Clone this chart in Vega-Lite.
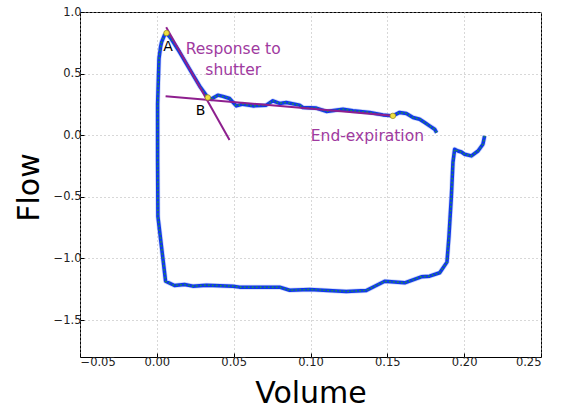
{
  "$schema": "https://vega.github.io/schema/vega-lite/v6.json",
  "width": 461,
  "height": 345,
  "autosize": "none",
  "padding": {"left": 80, "top": 12, "right": 20, "bottom": 51},
  "background": "white",
  "config": {
    "font": "DejaVu Sans",
    "view": {"stroke": "black", "strokeWidth": 1},
    "axis": {
      "grid": true, "gridColor": "#b0b0b0", "gridDash": [1, 3], "gridWidth": 1,
      "domain": false, "tickColor": "black", "tickSize": -4,
      "labelFont": "DejaVu Sans", "labelFontSize": 11.5, "labelColor": "#222222",
      "titleFont": "DejaVu Sans", "titleFontWeight": "normal", "titleFontSize": 30, "titleColor": "black"
    }
  },
  "datasets": {
    "loop": [
      {"i": 1, "vol": 0.2133, "flow": -0.006},
      {"i": 2, "vol": 0.2122, "flow": -0.073},
      {"i": 3, "vol": 0.2090, "flow": -0.128},
      {"i": 4, "vol": 0.2047, "flow": -0.168},
      {"i": 5, "vol": 0.2003, "flow": -0.154},
      {"i": 6, "vol": 0.1982, "flow": -0.136},
      {"i": 7, "vol": 0.1960, "flow": -0.128},
      {"i": 8, "vol": 0.1938, "flow": -0.114},
      {"i": 9, "vol": 0.1927, "flow": -0.22},
      {"i": 10, "vol": 0.1917, "flow": -0.49},
      {"i": 11, "vol": 0.1901, "flow": -0.82},
      {"i": 12, "vol": 0.1888, "flow": -1.03},
      {"i": 13, "vol": 0.1841, "flow": -1.116},
      {"i": 14, "vol": 0.1775, "flow": -1.144},
      {"i": 15, "vol": 0.1721, "flow": -1.149},
      {"i": 16, "vol": 0.1613, "flow": -1.198},
      {"i": 17, "vol": 0.1483, "flow": -1.185},
      {"i": 18, "vol": 0.1363, "flow": -1.26},
      {"i": 19, "vol": 0.1233, "flow": -1.268},
      {"i": 20, "vol": 0.0994, "flow": -1.252},
      {"i": 21, "vol": 0.0864, "flow": -1.258},
      {"i": 22, "vol": 0.0799, "flow": -1.233},
      {"i": 23, "vol": 0.0538, "flow": -1.233},
      {"i": 24, "vol": 0.0495, "flow": -1.225},
      {"i": 25, "vol": 0.0322, "flow": -1.217},
      {"i": 26, "vol": 0.0234, "flow": -1.225},
      {"i": 27, "vol": 0.0180, "flow": -1.211},
      {"i": 28, "vol": 0.0115, "flow": -1.22},
      {"i": 29, "vol": 0.0057, "flow": -1.185},
      {"i": 30, "vol": 0.0007, "flow": -0.66},
      {"i": 31, "vol": 0.0005, "flow": -0.195},
      {"i": 32, "vol": 0.0005, "flow": 0.25},
      {"i": 33, "vol": 0.0014, "flow": 0.62},
      {"i": 34, "vol": 0.0024, "flow": 0.715},
      {"i": 35, "vol": 0.0031, "flow": 0.756},
      {"i": 36, "vol": 0.0050, "flow": 0.813},
      {"i": 37, "vol": 0.0063, "flow": 0.829},
      {"i": 38, "vol": 0.0089, "flow": 0.79},
      {"i": 39, "vol": 0.0148, "flow": 0.675},
      {"i": 40, "vol": 0.0213, "flow": 0.537},
      {"i": 41, "vol": 0.0278, "flow": 0.40},
      {"i": 42, "vol": 0.0332, "flow": 0.306},
      {"i": 43, "vol": 0.0354, "flow": 0.293},
      {"i": 44, "vol": 0.0397, "flow": 0.325},
      {"i": 45, "vol": 0.0430, "flow": 0.315},
      {"i": 46, "vol": 0.0473, "flow": 0.298},
      {"i": 47, "vol": 0.0517, "flow": 0.238},
      {"i": 48, "vol": 0.0560, "flow": 0.252},
      {"i": 49, "vol": 0.0625, "flow": 0.238},
      {"i": 50, "vol": 0.0712, "flow": 0.244},
      {"i": 51, "vol": 0.0755, "flow": 0.279},
      {"i": 52, "vol": 0.0799, "flow": 0.258},
      {"i": 53, "vol": 0.0842, "flow": 0.266},
      {"i": 54, "vol": 0.0929, "flow": 0.244},
      {"i": 55, "vol": 0.0950, "flow": 0.225},
      {"i": 56, "vol": 0.1038, "flow": 0.22},
      {"i": 57, "vol": 0.1103, "flow": 0.193},
      {"i": 58, "vol": 0.1211, "flow": 0.211},
      {"i": 59, "vol": 0.1276, "flow": 0.198},
      {"i": 60, "vol": 0.1385, "flow": 0.185},
      {"i": 61, "vol": 0.1471, "flow": 0.165},
      {"i": 62, "vol": 0.1536, "flow": 0.157},
      {"i": 63, "vol": 0.1580, "flow": 0.185},
      {"i": 64, "vol": 0.1624, "flow": 0.176},
      {"i": 65, "vol": 0.1667, "flow": 0.144},
      {"i": 66, "vol": 0.1710, "flow": 0.13},
      {"i": 67, "vol": 0.1743, "flow": 0.103},
      {"i": 68, "vol": 0.1775, "flow": 0.076},
      {"i": 69, "vol": 0.1808, "flow": 0.049},
      {"i": 70, "vol": 0.1821, "flow": 0.02}
    ],
    "fits": [
      {"seg": "shutter", "vol": 0.0061, "flow": 0.876},
      {"seg": "shutter", "vol": 0.0473, "flow": -0.038},
      {"seg": "end", "vol": 0.0057, "flow": 0.317},
      {"seg": "end", "vol": 0.1536, "flow": 0.157}
    ],
    "marks": [
      {"name": "A", "vol": 0.0063, "flow": 0.829},
      {"name": "B", "vol": 0.0332, "flow": 0.306},
      {"name": "E", "vol": 0.1536, "flow": 0.157}
    ],
    "labels": [
      {"txt": "A", "vol": 0.0073, "flow": 0.72, "kind": "letter"},
      {"txt": "B", "vol": 0.0285, "flow": 0.20, "kind": "letter"},
      {"txt": "Response to", "vol": 0.0497, "flow": 0.70, "kind": "note"},
      {"txt": "shutter", "vol": 0.0497, "flow": 0.53, "kind": "note"},
      {"txt": "End-expiration", "vol": 0.137, "flow": -0.01, "kind": "note"}
    ]
  },
  "encoding": {
    "x": {"field": "vol", "type": "quantitative", "title": "Volume",
      "scale": {"domain": [-0.05, 0.25], "nice": false, "zero": false},
      "axis": {"values": [-0.05, 0, 0.05, 0.1, 0.15, 0.2, 0.25], "format": ".2f", "labelPadding": 3,
        "labelFontSize": 11.5, "labelColor": "#222222", "tickSize": -4, "tickColor": "black",
        "titleBaseline": "alphabetic", "titleY": 45}},
    "y": {"field": "flow", "type": "quantitative", "title": "Flow",
      "scale": {"domain": [-1.8, 1.0], "nice": false, "zero": false},
      "axis": {"values": [-1.5, -1, -0.5, 0, 0.5, 1], "format": ".1f", "labelPadding": 3,
        "labelFontSize": 11.5, "labelColor": "#222222", "tickSize": -4, "tickColor": "black",
        "titleBaseline": "alphabetic", "titleX": -42, "titleY": 175}}
  },
  "layer": [
    {"data": {"name": "loop"}, "mark": {"type": "line", "color": "#8fa8f5", "strokeWidth": 5, "opacity": 0.45, "strokeJoin": "round"},
      "encoding": {"order": {"field": "i", "type": "quantitative"}}},
    {"data": {"name": "loop"}, "mark": {"type": "line", "color": "#1038e8", "strokeWidth": 3.5, "strokeJoin": "round"},
      "encoding": {"order": {"field": "i", "type": "quantitative"}}},
    {"data": {"name": "loop"}, "mark": {"type": "line", "color": "#1f9a40", "strokeWidth": 1.5, "strokeDash": [1.5, 2.5]},
      "encoding": {"order": {"field": "i", "type": "quantitative"}}},
    {"data": {"name": "fits"}, "mark": {"type": "line", "color": "#8e1f8e", "strokeWidth": 2},
      "encoding": {"detail": {"field": "seg", "type": "nominal"}}},
    {"data": {"name": "marks"}, "mark": {"type": "point", "filled": true, "fill": "#f0e040", "stroke": "#a09020", "strokeWidth": 0.8, "size": 30, "opacity": 1},
      "encoding": {}},
    {"data": {"name": "labels"}, "transform": [{"filter": "datum.kind == 'letter'"}],
      "mark": {"type": "text", "fontSize": 14, "color": "black", "font": "DejaVu Sans"},
      "encoding": {"text": {"field": "txt"}}},
    {"data": {"name": "labels"}, "transform": [{"filter": "datum.kind == 'note'"}],
      "mark": {"type": "text", "fontSize": 15.5, "color": "#a03aa0", "font": "DejaVu Sans"},
      "encoding": {"text": {"field": "txt"}}}
  ]
}
